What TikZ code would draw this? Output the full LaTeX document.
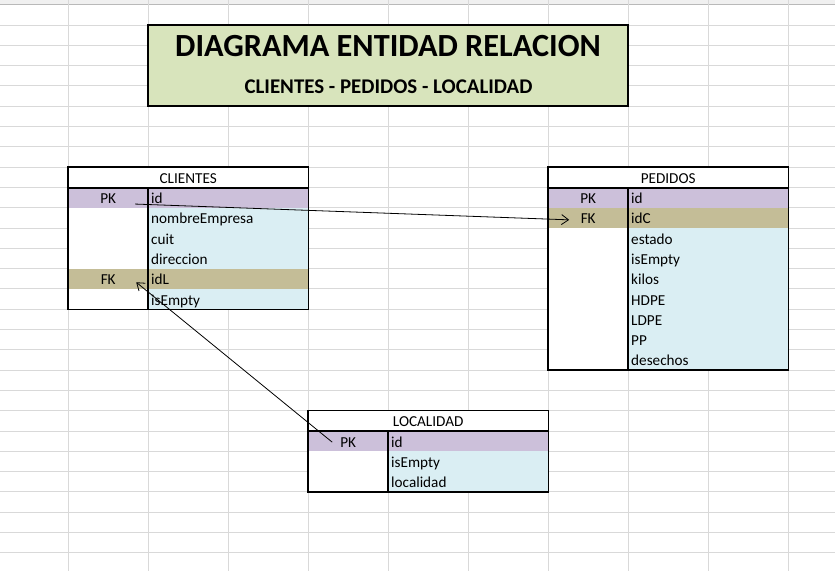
\documentclass[tikz,border=0pt]{standalone}
\usepackage{fontspec}
\setmainfont{Carlito}
\usetikzlibrary{arrows.meta}
\definecolor{pkcolor}{HTML}{CCC0DA}
\definecolor{fkcolor}{HTML}{C4BD97}
\definecolor{fieldcolor}{HTML}{DAEEF3}
\definecolor{titlecolor}{HTML}{D8E4BC}
\definecolor{gridcolor}{HTML}{D9D9D9}
\newcommand{\cellfont}{\fontsize{15.2}{17}\selectfont}
\tikzset{
  grid_line/.style = {gridcolor, line width=0.9pt},
  cell/.style = {anchor=west, inner sep=0pt, minimum height=20.3pt,
    text height=13pt, text depth=1pt, font=\cellfont},% case de tableau
  key_cell/.style = {cell, minimum width=80pt, fill=white},% colonne PK / FK
  field_cell/.style = {cell, text width=154pt, inner xsep=3pt, align=left,
    fill=fieldcolor},% colonne des champs
  head_cell/.style = {cell, minimum width=240pt, fill=white},% nom de la table
  pk_row/.style = {fill=pkcolor},
  fk_row/.style = {fill=fkcolor},
  table_border/.style = {line width=1.8pt},
  title_box/.style = {draw, line width=1.8pt, fill=titlecolor,
    minimum width=480pt, minimum height=81.2pt, inner sep=0pt},
  fk_link/.style = {-{Straight Barb[length=7pt,width=10pt]}, line width=0.8pt}
}

\begin{document}
\begin{tikzpicture}[x=1pt, y=-1pt]
  \useasboundingbox (0,0) rectangle (835,571);
  % feuille de calcul
  \fill[gray!12] (0,0) rectangle (835,4);
  \draw[gray!55, line width=0.9pt] (0,4.3) -- (835,4.3);
  \foreach \c in {0,...,9}
    \draw[grid_line] ({68+80*\c},0) -- ({68+80*\c},571);
  \foreach \r in {0,...,26}
    \draw[grid_line] (0,{25+20.3*\r}) -- (835,{25+20.3*\r});

  % titre
  \node[title_box] (title) at (388,65.6) {};
  \node[font=\fontsize{32.3}{35}\selectfont\bfseries] (titleA) at (388,46)
    {DIAGRAMA ENTIDAD RELACION};
  \node[font=\fontsize{20.9}{23}\selectfont\bfseries] (titleB) at (388.5,86.5)
    {CLIENTES - PEDIDOS - LOCALIDAD};

  % CLIENTES
  \node[head_cell, align=center] (cli) at (68,177.25) {CLIENTES};
  \node[key_cell, pk_row] (cliK8) at (68,197.55) {PK};
  \node[field_cell, pk_row] (cliF8) at (148,197.55) {id};
  \foreach \f [count=\i from 9] in {nombreEmpresa, cuit, direccion} {
    \node[key_cell] (cliK\i) at (68,{35.15+20.3*\i}) {};
    \node[field_cell] (cliF\i) at (148,{35.15+20.3*\i}) {\f};
  }
  \node[key_cell, fk_row] (cliK12) at (68,278.75) {FK};
  \node[field_cell, fk_row] (cliF12) at (148,278.75) {idL};
  \node[key_cell] (cliK13) at (68,299.05) {};
  \node[field_cell] (cliF13) at (148,299.05) {isEmpty};
  \draw[table_border] (cli.north west) rectangle (cliF13.south east);
  \draw[table_border] (cli.south west) -- (cli.south east);
  \draw[table_border] (cliF8.north west) -- (cliF13.south west);

  % PEDIDOS
  \node[head_cell, align=center] (ped) at (548,177.25) {PEDIDOS};
  \node[key_cell, pk_row] (pedK8) at (548,197.55) {PK};
  \node[field_cell, pk_row] (pedF8) at (628,197.55) {id};
  \node[key_cell, fk_row] (pedK9) at (548,217.85) {FK};
  \node[field_cell, fk_row] (pedF9) at (628,217.85) {idC};
  \foreach \f [count=\i from 10] in {estado, isEmpty, kilos, HDPE, LDPE, PP, desechos} {
    \node[key_cell] (pedK\i) at (548,{35.15+20.3*\i}) {};
    \node[field_cell] (pedF\i) at (628,{35.15+20.3*\i}) {\f};
  }
  \draw[table_border] (ped.north west) rectangle (pedF16.south east);
  \draw[table_border] (ped.south west) -- (ped.south east);
  \draw[table_border] (pedF8.north west) -- (pedF16.south west);

  % LOCALIDAD
  \node[head_cell, align=center] (loc) at (308,420.85) {LOCALIDAD};
  \node[key_cell, pk_row] (locK20) at (308,441.15) {PK};
  \node[field_cell, pk_row] (locF20) at (388,441.15) {id};
  \foreach \f [count=\i from 21] in {isEmpty, localidad} {
    \node[key_cell] (locK\i) at (308,{35.15+20.3*\i}) {};
    \node[field_cell] (locF\i) at (388,{35.15+20.3*\i}) {\f};
  }
  \draw[table_border] (loc.north west) rectangle (locF22.south east);
  \draw[table_border] (loc.south west) -- (loc.south east);
  \draw[table_border] (locF20.north west) -- (locF22.south west);

  % relations
  \draw[fk_link] ([shift={(27,6.5)}]cliK8.center) -- ([shift={(-19,2)}]pedK9.center);
  \draw[fk_link] ([shift={(-16,1)}]locK20.center) -- ([shift={(28,3.5)}]cliK12.center);
\end{tikzpicture}
\end{document}
